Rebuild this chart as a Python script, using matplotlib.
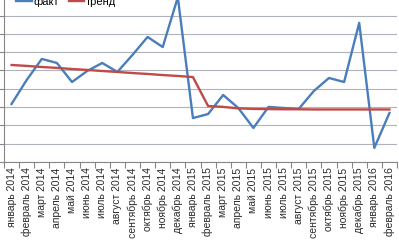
import matplotlib
matplotlib.use("Agg")
import matplotlib.pyplot as plt

categories = ["январь 2014", "февраль 2014", "март 2014", "апрель 2014", "май 2014",
              "июнь 2014", "июль 2014", "август 2014", "сентябрь 2014", "октябрь 2014",
              "ноябрь 2014", "декабрь 2014", "январь 2015", "февраль 2015", "март 2015",
              "апрель 2015", "май 2015", "июнь 2015", "июль 2015", "август 2015",
              "сентябрь 2015", "октябрь 2015", "ноябрь 2015", "декабрь 2015",
              "январь 2016", "февраль 2016"]

fact = [3.17, 4.48, 5.63, 5.41, 4.37, 4.97, 5.41, 4.92, 5.85, 6.83, 6.28, 9.0,
        2.40, 2.62, 3.66, 2.95, 1.86, 3.01, 2.95, 2.90, 3.88, 4.59, 4.37, 7.60,
        0.77, 2.68]

trend = [5.30, 5.25, 5.19, 5.14, 5.08, 5.03, 4.97, 4.92, 4.86, 4.81, 4.75, 4.70, 4.64,
         3.06, 3.01, 2.93, 2.90, 2.89, 2.88, 2.88, 2.87, 2.87, 2.87, 2.87, 2.87, 2.87]

plt.rcParams['font.family'] = ['Liberation Sans', 'DejaVu Sans']

fig = plt.figure(figsize=(3.99, 2.40), dpi=100)
ax = fig.add_axes([4 / 399, 78 / 240, 393 / 399, 162 / 240])

x = list(range(len(categories)))
ax.plot(x, fact, color='#4A7EBB', lw=1.7, label='факт', zorder=3)
ax.plot(x, trend, color='#BE4B48', lw=1.7, label='тренд', zorder=4)

ax.set_xlim(-0.5, len(categories) - 0.5)
ax.set_ylim(0, 8.85)
ax.set_yticks(range(0, 9))
ax.set_yticklabels([])
ax.grid(axis='y', color='#AEB3BC', lw=0.8)
ax.set_axisbelow(True)

ax.set_xticks(x)
ax.set_xticklabels(categories, rotation=90, fontsize=7.5, color='#2a2a2a')
ax.set_xticks([i - 0.5 for i in range(len(categories) + 1)], minor=True)
ax.tick_params(axis='x', which='major', length=0, pad=4)
ax.tick_params(axis='x', which='minor', length=4, color='#868686', width=0.8)
ax.tick_params(axis='y', length=4, color='#868686', width=0.8)

for s in ['top', 'right']:
    ax.spines[s].set_visible(False)
for s in ['left', 'bottom']:
    ax.spines[s].set_color('#868686')
    ax.spines[s].set_linewidth(0.8)

fig.legend(loc='center left', bbox_to_anchor=(16 / 399, 1 - 2 / 240), ncol=2,
           frameon=False, fontsize=8, handlelength=1.4, handletextpad=0.15,
           columnspacing=0.9, borderpad=0, borderaxespad=0)

fig.savefig('out.png', dpi=100)
